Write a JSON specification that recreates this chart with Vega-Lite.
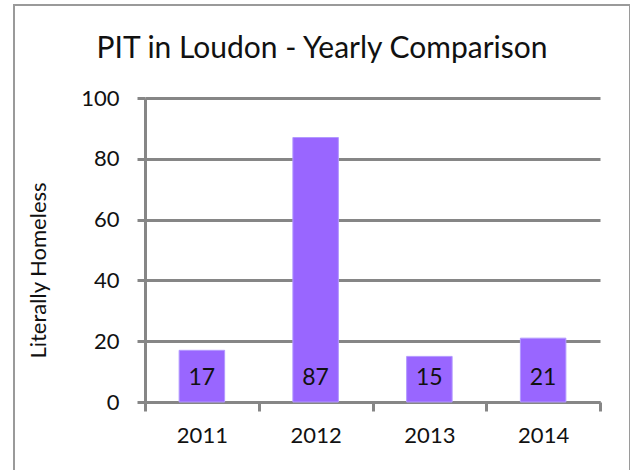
{
  "$schema": "https://vega.github.io/schema/vega-lite/v6.json",
  "width": 616,
  "height": 470,
  "autosize": "none",
  "padding": {"left": 14, "top": 5, "right": 0, "bottom": 0},
  "background": "white",
  "config": {"view": {"stroke": "#9a9a9a", "strokeWidth": 2}, "font": "Lato"},
  "title": {"text": "PIT in Loudon - Yearly Comparison", "anchor": "middle", "fontSize": 30, "fontWeight": "normal", "font": "Lato", "color": "#111", "offset": -59},
  "data": {"values": [
    {"year": "2011", "count": 17},
    {"year": "2012", "count": 87},
    {"year": "2013", "count": 15},
    {"year": "2014", "count": 21}
  ]},
  "encoding": {
    "x": {"field": "year", "type": "nominal",
      "scale": {"range": [131, 586], "paddingInner": 0, "paddingOuter": 0},
      "axis": {"title": null, "offset": -73, "domainColor": "#868686", "domainWidth": 3, "tickColor": "#868686", "tickWidth": 3, "tickSize": 9, "tickBand": "extent", "labelFontSize": 22, "labelColor": "#111", "labelPadding": 14, "labelAngle": 0}}
  },
  "layer": [
    {"mark": {"type": "bar", "color": "#9966FF", "stroke": "#b399ff", "strokeWidth": 1, "width": {"band": 0.4}},
     "encoding": {"y": {"field": "count", "type": "quantitative",
       "scale": {"domain": [0, 100], "range": [397, 93]},
       "axis": {"title": "Literally Homeless", "values": [0, 20, 40, 60, 80, 100], "offset": -131, "grid": true, "gridColor": "#868686", "gridWidth": 3, "domainColor": "#868686", "domainWidth": 3, "tickColor": "#868686", "tickWidth": 3, "tickSize": 8, "labelFontSize": 22, "labelColor": "#111", "labelPadding": 18, "titleFontSize": 22, "titleFontWeight": "normal", "titleColor": "#111", "titleX": -95, "titleY": 265, "titleAngle": 270}}}},
    {"mark": {"type": "text", "fontSize": 23, "baseline": "middle", "color": "#111"},
     "encoding": {"y": {"datum": 8}, "text": {"field": "count", "type": "quantitative"}}}
  ]
}
